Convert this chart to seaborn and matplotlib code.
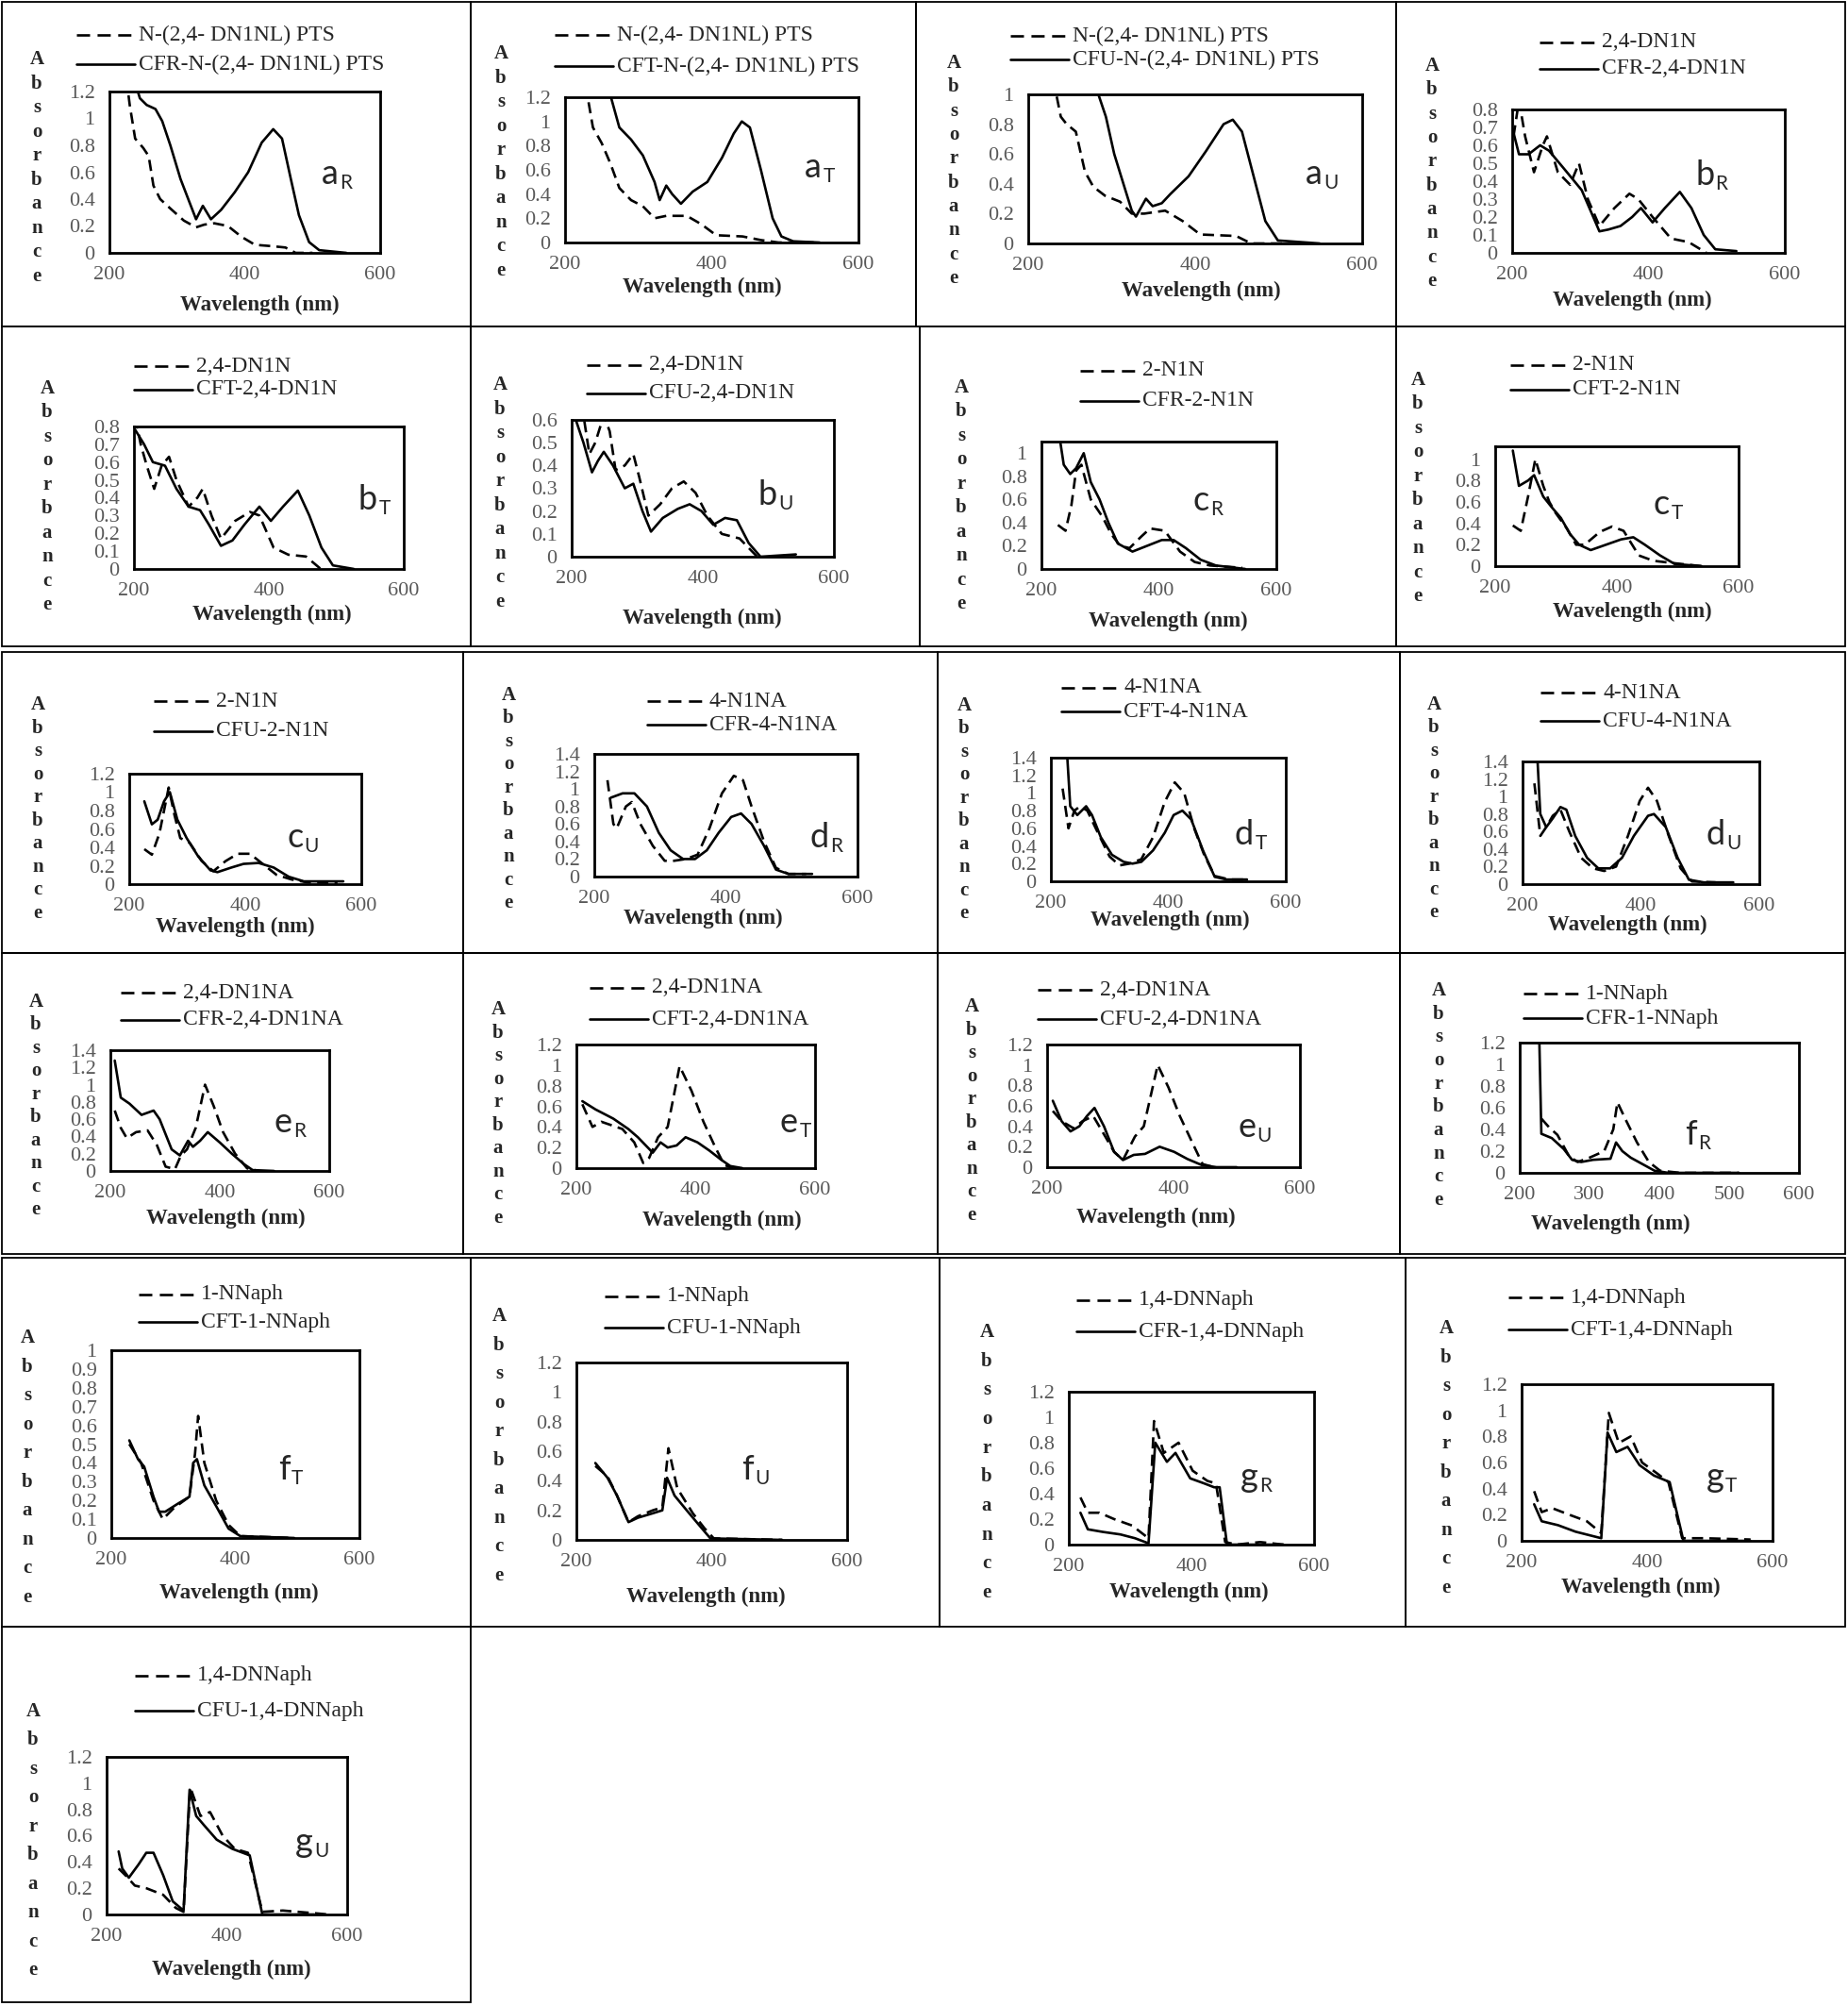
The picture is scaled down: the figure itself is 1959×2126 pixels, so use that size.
# -*- coding:utf-8 -*-
# UV-Vis absorbance spectra: 21 small panels (dye vs. CF-dye)

import matplotlib
matplotlib.use("Agg")
import numpy as np
import matplotlib.pyplot as plt
from matplotlib.lines import Line2D
from matplotlib.patches import Rectangle
from matplotlib.ticker import FuncFormatter
import seaborn as sns

W, H = 1959, 2126

# ---------------------------------------------------------------- data
PANEL_KEYS = ["aR", "aT", "aU", "bR", "bT", "bU", "cR", "cT", "cU",
              "dR", "dT", "dU", "eR", "eT", "eU", "fR", "fT", "fU",
              "gR", "gT", "gU"]

DASH_LABELS = ["N-(2,4- DN1NL) PTS", "N-(2,4- DN1NL) PTS", "N-(2,4- DN1NL) PTS",
               "2,4-DN1N", "2,4-DN1N", "2,4-DN1N",
               "2-N1N", "2-N1N", "2-N1N",
               "4-N1NA", "4-N1NA", "4-N1NA",
               "2,4-DN1NA", "2,4-DN1NA", "2,4-DN1NA",
               "1-NNaph", "1-NNaph", "1-NNaph",
               "1,4-DNNaph", "1,4-DNNaph", "1,4-DNNaph"]

SOLID_LABELS = ["CFR-N-(2,4- DN1NL) PTS", "CFT-N-(2,4- DN1NL) PTS", "CFU-N-(2,4- DN1NL) PTS",
                "CFR-2,4-DN1N", "CFT-2,4-DN1N", "CFU-2,4-DN1N",
                "CFR-2-N1N", "CFT-2-N1N", "CFU-2-N1N",
                "CFR-4-N1NA", "CFT-4-N1NA", "CFU-4-N1NA",
                "CFR-2,4-DN1NA", "CFT-2,4-DN1NA", "CFU-2,4-DN1NA",
                "CFR-1-NNaph", "CFT-1-NNaph", "CFU-1-NNaph",
                "CFR-1,4-DNNaph", "CFT-1,4-DNNaph", "CFU-1,4-DNNaph"]

Y_MAX = [1.2, 1.2, 1.0, 0.8, 0.8, 0.6, 1.1, 1.12, 1.2, 1.4, 1.4, 1.4,
         1.4, 1.2, 1.2, 1.2, 1.0, 1.2, 1.2, 1.2, 1.2]
Y_TICK_TOP = [1.2, 1.2, 1.0, 0.8, 0.8, 0.6, 1.0, 1.0, 1.2, 1.4, 1.4, 1.4,
              1.4, 1.2, 1.2, 1.2, 1.0, 1.2, 1.2, 1.2, 1.2]
Y_STEP = [0.2, 0.2, 0.2, 0.1, 0.1, 0.1, 0.2, 0.2, 0.2, 0.2, 0.2, 0.2,
          0.2, 0.2, 0.2, 0.2, 0.1, 0.2, 0.2, 0.2, 0.2]
X_STEP = [200, 200, 200, 200, 200, 200, 200, 200, 200, 200, 200, 200,
          200, 200, 200, 100, 200, 200, 200, 200, 200]

# spectra: wavelength (nm) / absorbance, dashed = dye, solid = CF-dye
aR_wl_d = [225, 230, 238, 250, 258, 265, 275, 290, 310, 328, 340, 355, 375, 395, 415, 440, 460, 475, 500]
aR_ab_d = [1.3, 1.1, 0.85, 0.78, 0.72, 0.5, 0.4, 0.33, 0.24, 0.19, 0.21, 0.22, 0.2, 0.12, 0.06, 0.05, 0.04, 0.0, 0.0]
aR_wl_s = [236, 245, 255, 268, 278, 290, 305, 318, 328, 338, 350, 365, 385, 405, 425, 442, 455, 468, 480, 495, 510, 550]
aR_ab_s = [1.3, 1.15, 1.1, 1.07, 0.98, 0.8, 0.55, 0.38, 0.25, 0.35, 0.25, 0.32, 0.45, 0.6, 0.82, 0.92, 0.85, 0.55, 0.28, 0.08, 0.02, 0.0]

aT_wl_d = [228, 238, 250, 262, 274, 290, 306, 322, 338, 366, 386, 406, 442, 467, 491, 539]
aT_ab_d = [1.3, 0.95, 0.82, 0.65, 0.45, 0.35, 0.3, 0.2, 0.22, 0.22, 0.15, 0.06, 0.05, 0.02, 0.0, 0.0]
aT_wl_s = [258, 274, 290, 306, 322, 329, 338, 346, 358, 374, 394, 414, 430, 441, 452, 467, 483, 495, 511, 547]
aT_ab_s = [1.3, 0.95, 0.85, 0.72, 0.5, 0.35, 0.47, 0.4, 0.32, 0.42, 0.5, 0.7, 0.9, 1.0, 0.95, 0.6, 0.2, 0.05, 0.01, 0.0]

aU_wl_d = [230, 239, 246, 257, 268, 278, 292, 310, 324, 339, 364, 385, 406, 449, 467, 506]
aU_ab_d = [1.1, 0.85, 0.8, 0.75, 0.48, 0.38, 0.32, 0.28, 0.2, 0.2, 0.22, 0.15, 0.06, 0.05, 0.0, 0.0]
aU_wl_s = [278, 293, 303, 314, 324, 329, 341, 349, 360, 370, 392, 413, 434, 445, 456, 470, 484, 499, 549]
aU_ab_s = [1.1, 0.85, 0.6, 0.4, 0.22, 0.18, 0.3, 0.25, 0.27, 0.33, 0.45, 0.62, 0.8, 0.83, 0.75, 0.45, 0.15, 0.02, 0.0]

bR_wl_d = [202, 210, 219, 232, 245, 251, 267, 285, 298, 311, 328, 350, 372, 385, 406, 433, 459, 485]
bR_ab_d = [0.65, 0.85, 0.65, 0.45, 0.6, 0.65, 0.45, 0.38, 0.5, 0.3, 0.15, 0.25, 0.33, 0.3, 0.2, 0.08, 0.06, 0.0]
bR_wl_s = [200, 210, 224, 241, 254, 276, 302, 319, 328, 341, 359, 376, 389, 406, 424, 446, 463, 481, 498, 529]
bR_ab_s = [0.7, 0.55, 0.55, 0.6, 0.57, 0.47, 0.35, 0.2, 0.12, 0.13, 0.15, 0.2, 0.25, 0.17, 0.25, 0.34, 0.25, 0.1, 0.02, 0.01]

bT_wl_d = [202, 210, 219, 230, 241, 252, 263, 281, 294, 302, 315, 329, 350, 372, 386, 407, 429, 455, 477]
bT_ab_d = [0.85, 0.7, 0.58, 0.45, 0.58, 0.63, 0.5, 0.35, 0.4, 0.45, 0.3, 0.17, 0.27, 0.32, 0.3, 0.12, 0.08, 0.07, 0.0]
bT_wl_s = [202, 215, 228, 246, 263, 281, 298, 311, 329, 346, 364, 386, 403, 421, 443, 460, 478, 495, 526]
bT_ab_s = [0.78, 0.7, 0.6, 0.58, 0.45, 0.35, 0.33, 0.25, 0.13, 0.16, 0.25, 0.35, 0.27, 0.35, 0.44, 0.3, 0.12, 0.02, 0.0]

bU_wl_d = [204, 218, 227, 236, 249, 258, 267, 281, 294, 303, 317, 335, 353, 371, 389, 407, 429, 456, 483]
bU_ab_d = [0.65, 0.62, 0.45, 0.5, 0.62, 0.55, 0.38, 0.4, 0.45, 0.35, 0.18, 0.23, 0.3, 0.33, 0.28, 0.18, 0.1, 0.08, 0.0]
bU_wl_s = [204, 218, 231, 240, 249, 263, 281, 294, 308, 321, 339, 362, 380, 398, 416, 434, 452, 470, 488, 542]
bU_ab_s = [0.62, 0.5, 0.37, 0.42, 0.46, 0.4, 0.3, 0.32, 0.2, 0.11, 0.17, 0.21, 0.23, 0.2, 0.14, 0.17, 0.16, 0.06, 0.0, 0.01]

cR_wl_d = [228, 241, 251, 259, 268, 284, 304, 319, 334, 350, 370, 385, 410, 436, 461, 487, 542]
cR_ab_d = [0.38, 0.33, 0.55, 0.85, 0.9, 0.6, 0.45, 0.3, 0.2, 0.18, 0.28, 0.35, 0.33, 0.15, 0.06, 0.03, 0.01]
cR_wl_s = [229, 238, 249, 259, 272, 284, 299, 314, 330, 355, 380, 405, 425, 446, 471, 497, 547]
cR_ab_s = [1.2, 0.9, 0.82, 0.87, 1.0, 0.75, 0.6, 0.4, 0.22, 0.15, 0.2, 0.25, 0.25, 0.18, 0.08, 0.03, 0.0]

cT_wl_d = [229, 242, 254, 266, 279, 289, 299, 318, 333, 347, 372, 392, 411, 436, 460, 490, 539]
cT_ab_d = [0.38, 0.33, 0.65, 1.0, 0.75, 0.6, 0.5, 0.35, 0.2, 0.2, 0.32, 0.37, 0.33, 0.1, 0.05, 0.03, 0.0]
cT_wl_s = [229, 239, 254, 264, 279, 293, 308, 323, 338, 357, 382, 407, 427, 446, 471, 495, 539]
cT_ab_s = [1.08, 0.75, 0.8, 0.85, 0.65, 0.55, 0.45, 0.3, 0.2, 0.15, 0.2, 0.25, 0.27, 0.2, 0.1, 0.02, 0.0]

cU_wl_d = [226, 239, 252, 268, 278, 288, 304, 325, 345, 366, 387, 408, 434, 454, 480, 506, 559]
cU_ab_d = [0.38, 0.32, 0.55, 1.05, 0.75, 0.5, 0.45, 0.25, 0.14, 0.25, 0.33, 0.33, 0.2, 0.1, 0.05, 0.02, 0.01]
cU_wl_s = [226, 239, 249, 260, 270, 283, 299, 319, 340, 352, 376, 397, 423, 449, 475, 501, 569]
cU_ab_s = [0.9, 0.65, 0.7, 0.9, 1.0, 0.7, 0.5, 0.3, 0.15, 0.13, 0.18, 0.22, 0.23, 0.18, 0.08, 0.03, 0.03]

dR_wl_d = [220, 229, 234, 248, 257, 270, 289, 307, 321, 339, 357, 375, 394, 412, 426, 439, 458, 476, 495, 522]
dR_ab_d = [1.1, 0.6, 0.55, 0.8, 0.85, 0.6, 0.35, 0.18, 0.18, 0.2, 0.25, 0.55, 0.95, 1.15, 1.1, 0.8, 0.4, 0.1, 0.03, 0.03]
dR_wl_s = [225, 243, 261, 280, 298, 316, 335, 353, 371, 389, 408, 423, 439, 458, 476, 495, 531]
dR_ab_s = [0.9, 0.95, 0.95, 0.8, 0.5, 0.3, 0.2, 0.2, 0.3, 0.5, 0.68, 0.72, 0.6, 0.35, 0.08, 0.03, 0.03]

dT_wl_d = [220, 230, 240, 250, 262, 280, 300, 317, 334, 354, 374, 394, 411, 427, 444, 461, 479, 504, 529]
dT_ab_d = [1.05, 0.6, 0.8, 0.85, 0.8, 0.55, 0.28, 0.18, 0.2, 0.25, 0.5, 0.9, 1.12, 1.0, 0.6, 0.3, 0.06, 0.02, 0.02]
dT_wl_s = [225, 228, 233, 245, 260, 270, 285, 304, 324, 339, 354, 374, 394, 409, 424, 439, 459, 479, 499, 534]
dT_ab_s = [1.5, 1.4, 0.85, 0.75, 0.85, 0.75, 0.5, 0.3, 0.22, 0.2, 0.22, 0.35, 0.55, 0.75, 0.8, 0.7, 0.35, 0.05, 0.02, 0.02]

dU_wl_d = [220, 230, 240, 251, 264, 279, 299, 319, 338, 358, 378, 398, 412, 427, 447, 467, 486, 526]
dU_ab_d = [1.15, 0.55, 0.65, 0.78, 0.85, 0.6, 0.3, 0.18, 0.15, 0.2, 0.55, 0.95, 1.1, 0.95, 0.55, 0.18, 0.03, 0.02]
dU_wl_s = [225, 230, 240, 251, 264, 274, 289, 309, 328, 348, 368, 388, 412, 422, 442, 462, 481, 506, 556]
dU_ab_s = [1.45, 0.8, 0.65, 0.75, 0.88, 0.85, 0.55, 0.3, 0.18, 0.18, 0.3, 0.55, 0.78, 0.8, 0.65, 0.3, 0.05, 0.02, 0.02]

eR_wl_d = [208, 219, 230, 247, 268, 285, 301, 318, 329, 340, 356, 373, 389, 406, 428, 450, 471]
eR_ab_d = [0.7, 0.5, 0.38, 0.45, 0.47, 0.3, 0.05, 0.02, 0.18, 0.25, 0.5, 1.0, 0.75, 0.45, 0.2, 0.03, 0.0]
eR_wl_s = [208, 219, 235, 257, 279, 290, 312, 327, 342, 351, 364, 378, 400, 422, 444, 460, 499]
eR_ab_s = [1.28, 0.85, 0.78, 0.65, 0.7, 0.6, 0.25, 0.18, 0.35, 0.28, 0.35, 0.45, 0.33, 0.2, 0.08, 0.01, 0.0]

eT_wl_d = [210, 227, 242, 257, 277, 297, 312, 322, 337, 353, 373, 393, 413, 433, 448, 463]
eT_ab_d = [0.62, 0.4, 0.45, 0.42, 0.38, 0.25, 0.05, 0.1, 0.3, 0.4, 0.99, 0.75, 0.45, 0.2, 0.03, 0.0]
eT_wl_s = [210, 232, 262, 287, 303, 328, 341, 353, 368, 383, 403, 423, 443, 458, 478]
eT_ab_s = [0.65, 0.57, 0.48, 0.38, 0.3, 0.15, 0.25, 0.2, 0.22, 0.3, 0.25, 0.17, 0.08, 0.02, 0.0]

eU_wl_d = [209, 223, 242, 256, 273, 292, 306, 320, 339, 353, 375, 392, 410, 429, 446, 464]
eU_ab_d = [0.55, 0.45, 0.38, 0.45, 0.5, 0.3, 0.15, 0.07, 0.3, 0.4, 1.0, 0.78, 0.5, 0.25, 0.03, 0.0]
eU_wl_s = [209, 223, 237, 251, 263, 275, 290, 306, 320, 337, 355, 378, 401, 422, 445, 468, 500]
eU_ab_s = [0.65, 0.45, 0.35, 0.4, 0.5, 0.58, 0.4, 0.15, 0.07, 0.12, 0.13, 0.2, 0.15, 0.08, 0.02, 0.0, 0.0]

fR_wl_d = [231, 242, 254, 271, 283, 300, 321, 334, 340, 351, 368, 385, 401, 430, 514]
fR_ab_d = [0.5, 0.42, 0.35, 0.15, 0.1, 0.14, 0.2, 0.4, 0.65, 0.5, 0.28, 0.1, 0.02, 0.0, 0.0]
fR_wl_s = [228, 231, 246, 263, 275, 288, 305, 330, 338, 347, 359, 376, 393, 413, 514]
fR_ab_s = [1.25, 0.36, 0.32, 0.22, 0.12, 0.1, 0.12, 0.13, 0.28, 0.2, 0.14, 0.08, 0.02, 0.0, 0.0]

fT_wl_d = [229, 248, 268, 283, 301, 326, 335, 340, 350, 369, 389, 408, 495]
fT_ab_d = [0.5, 0.4, 0.2, 0.1, 0.16, 0.22, 0.45, 0.65, 0.4, 0.2, 0.07, 0.01, 0.0]
fT_wl_s = [229, 243, 253, 268, 277, 287, 306, 326, 332, 338, 350, 369, 389, 408, 495]
fT_ab_s = [0.52, 0.42, 0.38, 0.22, 0.14, 0.14, 0.18, 0.22, 0.4, 0.42, 0.28, 0.17, 0.05, 0.01, 0.0]

fU_wl_d = [228, 246, 260, 277, 291, 313, 327, 336, 349, 372, 389, 403, 504]
fU_ab_d = [0.5, 0.43, 0.3, 0.12, 0.16, 0.2, 0.22, 0.62, 0.35, 0.18, 0.08, 0.01, 0.0]
fU_wl_s = [228, 246, 260, 277, 291, 313, 327, 334, 345, 363, 385, 398, 504]
fU_ab_s = [0.52, 0.42, 0.3, 0.12, 0.15, 0.18, 0.2, 0.42, 0.3, 0.2, 0.08, 0.01, 0.0]

gR_wl_d = [219, 231, 250, 274, 303, 330, 339, 355, 379, 402, 426, 440, 455, 474, 512, 550]
gR_ab_d = [0.37, 0.25, 0.25, 0.2, 0.15, 0.05, 0.97, 0.72, 0.8, 0.58, 0.5, 0.48, 0.02, 0.0, 0.02, 0.0]
gR_wl_s = [219, 231, 255, 284, 308, 330, 341, 360, 374, 398, 421, 437, 446, 458, 550]
gR_ab_s = [0.25, 0.12, 0.1, 0.08, 0.05, 0.01, 0.8, 0.65, 0.72, 0.52, 0.48, 0.45, 0.45, 0.0, 0.0]

gT_wl_d = [220, 232, 249, 276, 304, 327, 339, 355, 374, 392, 415, 434, 456, 490, 565]
gT_ab_d = [0.38, 0.22, 0.25, 0.2, 0.15, 0.06, 0.98, 0.75, 0.8, 0.6, 0.52, 0.45, 0.02, 0.02, 0.01]
gT_wl_s = [220, 232, 258, 286, 327, 337, 351, 369, 388, 411, 436, 458, 565]
gT_ab_s = [0.28, 0.15, 0.12, 0.07, 0.02, 0.83, 0.68, 0.72, 0.58, 0.5, 0.45, 0.0, 0.0]

gU_wl_d = [220, 231, 247, 266, 294, 315, 328, 339, 356, 372, 393, 413, 435, 459, 493, 545, 569]
gU_ab_d = [0.35, 0.3, 0.22, 0.2, 0.15, 0.05, 0.02, 0.97, 0.75, 0.78, 0.6, 0.5, 0.47, 0.02, 0.03, 0.01, 0.0]
gU_wl_s = [220, 226, 237, 253, 266, 278, 294, 310, 328, 338, 349, 362, 383, 409, 438, 459, 545]
gU_ab_s = [0.48, 0.35, 0.28, 0.38, 0.47, 0.47, 0.3, 0.1, 0.03, 0.95, 0.75, 0.68, 0.57, 0.5, 0.45, 0.0, 0.0]

SPECTRA = {
    "aR": (aR_wl_d, aR_ab_d, aR_wl_s, aR_ab_s), "aT": (aT_wl_d, aT_ab_d, aT_wl_s, aT_ab_s),
    "aU": (aU_wl_d, aU_ab_d, aU_wl_s, aU_ab_s), "bR": (bR_wl_d, bR_ab_d, bR_wl_s, bR_ab_s),
    "bT": (bT_wl_d, bT_ab_d, bT_wl_s, bT_ab_s), "bU": (bU_wl_d, bU_ab_d, bU_wl_s, bU_ab_s),
    "cR": (cR_wl_d, cR_ab_d, cR_wl_s, cR_ab_s), "cT": (cT_wl_d, cT_ab_d, cT_wl_s, cT_ab_s),
    "cU": (cU_wl_d, cU_ab_d, cU_wl_s, cU_ab_s), "dR": (dR_wl_d, dR_ab_d, dR_wl_s, dR_ab_s),
    "dT": (dT_wl_d, dT_ab_d, dT_wl_s, dT_ab_s), "dU": (dU_wl_d, dU_ab_d, dU_wl_s, dU_ab_s),
    "eR": (eR_wl_d, eR_ab_d, eR_wl_s, eR_ab_s), "eT": (eT_wl_d, eT_ab_d, eT_wl_s, eT_ab_s),
    "eU": (eU_wl_d, eU_ab_d, eU_wl_s, eU_ab_s), "fR": (fR_wl_d, fR_ab_d, fR_wl_s, fR_ab_s),
    "fT": (fT_wl_d, fT_ab_d, fT_wl_s, fT_ab_s), "fU": (fU_wl_d, fU_ab_d, fU_wl_s, fU_ab_s),
    "gR": (gR_wl_d, gR_ab_d, gR_wl_s, gR_ab_s), "gT": (gT_wl_d, gT_ab_d, gT_wl_s, gT_ab_s),
    "gU": (gU_wl_d, gU_ab_d, gU_wl_s, gU_ab_s),
}

# ---------------------------------------------------------------- layout (pixels)
PANEL_RECTS = [(2, 2, 499, 346), (499, 2, 971, 346), (971, 2, 1480, 346), (1480, 2, 1956, 346),
               (2, 346, 499, 685), (499, 346, 975, 685), (975, 346, 1480, 685), (1480, 346, 1956, 685),
               (2, 691, 491, 1010), (491, 691, 994, 1010), (994, 691, 1484, 1010), (1484, 691, 1956, 1010),
               (2, 1010, 491, 1329), (491, 1010, 994, 1329), (994, 1010, 1484, 1329), (1484, 1010, 1956, 1329),
               (2, 1333, 499, 1724), (499, 1333, 996, 1724), (996, 1333, 1490, 1724), (1490, 1333, 1956, 1724),
               (2, 1724, 499, 2122)]

AX_BOX = [(116, 97, 403, 268), (599, 103, 910, 257), (1090, 100, 1444, 258), (1603, 116, 1892, 268),
          (142, 452, 428, 603), (606, 445, 884, 590), (1104, 468, 1353, 603), (1585, 473, 1843, 600),
          (137, 820, 383, 937), (630, 799, 909, 929), (1114, 803, 1363, 934), (1614, 807, 1865, 937),
          (117, 1113, 349, 1241), (611, 1107, 864, 1238), (1110, 1107, 1378, 1237), (1611, 1105, 1907, 1243),
          (118, 1431, 381, 1630), (611, 1444, 898, 1632), (1133, 1475, 1393, 1637), (1613, 1467, 1879, 1633),
          (113, 1862, 368, 2029)]

LEG_POS = [(81, 37, 68), (588, 37, 70), (1071, 38, 63), (1632, 45, 73),
           (142, 388, 413), (622, 387, 417), (1145, 393, 425), (1601, 387, 413),
           (163, 743, 775), (686, 743, 768), (1125, 729, 754), (1633, 734, 764),
           (128, 1052, 1081), (625, 1047, 1080), (1100, 1049, 1080), (1615, 1053, 1079),
           (147, 1372, 1401), (641, 1374, 1407), (1141, 1378, 1411), (1599, 1375, 1409),
           (143, 1776, 1813)]

YLAB_POS = [(39, 63, 293), (531, 57, 287), (1011, 67, 295), (1518, 70, 298),
            (50, 412, 641), (530, 408, 638), (1019, 411, 640), (1503, 403, 632),
            (40, 747, 968), (539, 737, 957), (1022, 748, 968), (1520, 747, 967),
            (38, 1062, 1282), (528, 1070, 1291), (1030, 1067, 1288), (1525, 1050, 1272),
            (29, 1418, 1693), (529, 1395, 1670), (1046, 1412, 1688), (1533, 1408, 1683),
            (35, 1814, 2088)]

XLAB_POS = [(275, 323), (744, 304), (1273, 308), (1730, 318),
            (288, 651), (744, 655), (1238, 658), (1730, 648),
            (249, 982), (745, 973), (1240, 975), (1725, 980),
            (239, 1291), (765, 1293), (1225, 1290), (1707, 1297),
            (253, 1688), (748, 1692), (1260, 1687), (1739, 1682),
            (245, 2087)]

TAG_POS = [(341, 195), (853, 188), (1384, 195), (1797, 196),
           (380, 540), (804, 535), (1264, 541), (1753, 545),
           (304, 898), (859, 898), (1309, 895), (1809, 895),
           (291, 1200), (827, 1200), (1312, 1205), (1786, 1213),
           (295, 1568), (786, 1568), (1315, 1576), (1809, 1576),
           (313, 1963)]

DATA_DASH = (0, (4.5, 2.5))
LEG_DASH = (0, (5.3, 3.0))
TICK_GREY = "#595959"


def fx(px):
    return px / W


def fy(py):
    return 1 - py / H


def draw_panel(fig, i, key):
    l, t, r, b = AX_BOX[i]
    ax = fig.add_axes([fx(l), fy(b), fx(r) - fx(l), fy(t) - fy(b)])
    wl_d, ab_d, wl_s, ab_s = SPECTRA[key]

    sns.lineplot(x=wl_d, y=ab_d, ax=ax, color="black", linewidth=1.9,
                 linestyle=DATA_DASH, sort=False, estimator=None, legend=False)
    sns.lineplot(x=wl_s, y=ab_s, ax=ax, color="black", linewidth=1.9,
                 linestyle="-", sort=False, estimator=None, legend=False)

    ax.set_xlim(200, 600)
    ax.set_ylim(0, Y_MAX[i])
    ax.set_xticks(np.arange(200, 601, X_STEP[i]))
    yt = np.round(np.arange(0, Y_TICK_TOP[i] + 1e-6, Y_STEP[i]), 2)
    ax.set_yticks(yt)
    ax.yaxis.set_major_formatter(FuncFormatter(lambda v, p: f"{v:g}"))
    ax.tick_params(length=0, labelsize=16, labelcolor=TICK_GREY)
    ax.tick_params(axis="y", pad=11)
    ax.tick_params(axis="x", pad=10)
    ax.grid(False)
    for sp in ax.spines.values():
        sp.set_visible(True)
        sp.set_color("black")
        sp.set_linewidth(2.0)

    # x label
    ax.set_ylabel("")
    ax.set_xlabel("Wavelength (nm)", fontsize=16.5, fontweight="bold")
    cx, cy = XLAB_POS[i]
    ax.xaxis.set_label_coords((cx - l) / (r - l), (b - cy) / (b - t))
    ax.xaxis.label.set_verticalalignment("center")

    # stacked "Absorbance"
    xa, ya, ye = YLAB_POS[i]
    for k, ch in enumerate("Absorbance"):
        fig.text(fx(xa), fy(ya + k * (ye - ya) / 9), ch, fontsize=15,
                 fontweight="bold", ha="center", va="center")

    # legend (dashed = dye, solid = CF-dye)
    x0, yd, ys = LEG_POS[i]
    for yy, ls, txt in [(yd, LEG_DASH, DASH_LABELS[i]), (ys, "-", SOLID_LABELS[i])]:
        fig.add_artist(Line2D([fx(x0), fx(x0 + 62)], [fy(yy), fy(yy)],
                              transform=fig.transFigure, color="black",
                              linewidth=1.9, linestyle=ls))
        fig.text(fx(x0 + 66), fy(yy), txt, fontsize=17, ha="left", va="center")

    # panel tag, e.g. a_R
    tx, ty = TAG_POS[i]
    main = fig.text(fx(tx), fy(ty), key[0], fontsize=26, family="Lato",
                    ha="left", va="baseline")
    ax.annotate(key[1], xy=(1, 0), xycoords=main, xytext=(1, -2),
                textcoords="offset points", fontsize=15, family="Lato",
                ha="left", va="bottom")
    return ax


def main():
    sns.set_style("white")
    plt.rcParams["font.family"] = ["Liberation Serif", "DejaVu Serif"]

    fig = plt.figure(figsize=(W / 100, H / 100), dpi=100)
    fig.patch.set_facecolor("white")

    for x0, y0, x1, y1 in PANEL_RECTS:
        fig.add_artist(Rectangle((fx(x0), fy(y1)), fx(x1) - fx(x0), fy(y0) - fy(y1),
                                 transform=fig.transFigure, fill=False,
                                 edgecolor="black", linewidth=1.3))

    for i, key in enumerate(PANEL_KEYS):
        draw_panel(fig, i, key)

    fig.savefig("out.png", dpi=100, facecolor="white")
    plt.close(fig)


if __name__ == "__main__":
    main()
